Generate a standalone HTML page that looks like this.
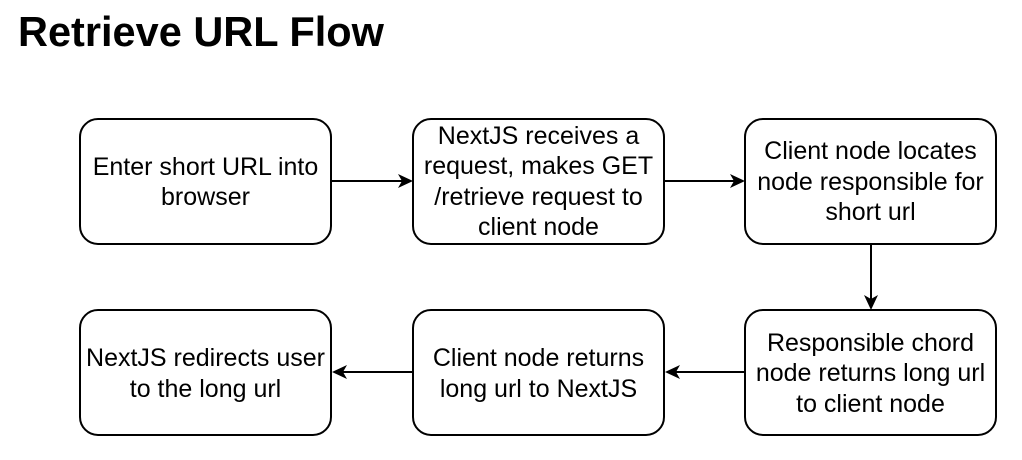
<!DOCTYPE html>
<html><head><meta charset="utf-8"><style>
html,body{margin:0;padding:0;background:#fff;}
svg{display:block;}
text{font-family:"Liberation Sans",Arial,sans-serif;fill:#000;}
.t{font-size:25px;text-anchor:middle;}
</style></head><body>
<svg width="1022" height="460" viewBox="0 0 1022 460" xmlns="http://www.w3.org/2000/svg">
<rect width="1022" height="460" fill="#fff"/>
<text x="18" y="46" font-size="41.5" font-weight="bold">Retrieve URL Flow</text>
<g fill="#fff" stroke="#000" stroke-width="2">
<rect x="80" y="119" width="251" height="125" rx="18"/>
<rect x="413" y="119" width="251" height="125" rx="18"/>
<rect x="745" y="119" width="251" height="125" rx="18"/>
<rect x="80" y="310" width="251" height="125" rx="18"/>
<rect x="413" y="310" width="251" height="125" rx="18"/>
<rect x="745" y="310" width="251" height="125" rx="18"/>
</g>
<g stroke="#000" stroke-width="2">
<line x1="331" y1="181" x2="402" y2="181"/>
<line x1="664" y1="181" x2="734" y2="181"/>
<line x1="871" y1="244" x2="871" y2="299"/>
<line x1="745" y1="372" x2="676" y2="372"/>
<line x1="413" y1="372" x2="343" y2="372"/>
</g>
<g fill="#000">
<path d="M413,181 L398,174 L402,181 L398,188 Z"/>
<path d="M745,181 L730,174 L734,181 L730,188 Z"/>
<path d="M871,310 L864,295 L871,299 L878,295 Z"/>
<path d="M665,372 L680,365 L676,372 L680,379 Z"/>
<path d="M332,372 L347,365 L343,372 L347,379 Z"/>
</g>
<text class="t" x="205.5" y="175">Enter short URL into</text>
<text class="t" x="205.5" y="205">browser</text>
<text class="t" x="538.5" y="144">NextJS receives a</text>
<text class="t" x="538.5" y="174">request, makes GET</text>
<text class="t" x="538.5" y="205">/retrieve request to</text>
<text class="t" x="538.5" y="235">client node</text>
<text class="t" x="870.5" y="159">Client node locates</text>
<text class="t" x="870.5" y="190">node responsible for</text>
<text class="t" x="870.5" y="220">short url</text>
<text class="t" x="870.5" y="351">Responsible chord</text>
<text class="t" x="870.5" y="381">node returns long url</text>
<text class="t" x="870.5" y="412">to client node</text>
<text class="t" x="538.5" y="366">Client node returns</text>
<text class="t" x="538.5" y="397">long url to NextJS</text>
<text class="t" x="205.5" y="366">NextJS redirects user</text>
<text class="t" x="205.5" y="397">to the long url</text>
</svg>
</body></html>
